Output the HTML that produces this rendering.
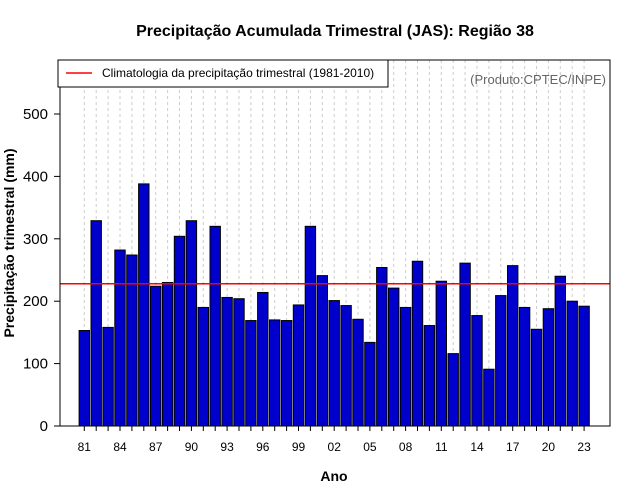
<!DOCTYPE html>
<html><head><meta charset="utf-8"><style>body{margin:0;background:#fff}svg{display:block}text{font-family:"Liberation Sans",sans-serif}</style></head>
<body>
<svg id="c" width="640" height="500"></svg>
<script>
const years=[81,82,83,84,85,86,87,88,89,90,91,92,93,94,95,96,97,98,99,0,1,2,3,4,5,6,7,8,9,10,11,12,13,14,15,16,17,18,19,20,21,22,23];
const values=[153,329,158,282,274,388,224,230,304,329,190,320,206,204,169,214,170,169,194,320,241,201,193,171,134,254,221,190,264,161,232,116,261,177,91,209,257,190,155,188,240,200,192];
const climatology=228;
const yTicks=[0,100,200,300,400,500];
const xLabels=["81","84","87","90","93","96","99","02","05","08","11","14","17","20","23"];
const NS="http://www.w3.org/2000/svg",svg=document.getElementById('c');
function el(t,a,p){const e=document.createElementNS(NS,t);for(const k in a)e.setAttribute(k,a[k]);(p||svg).appendChild(e);return e;}
const L=60,R=610,T=60,B=426;
const x=i=>84.3+i*11.9, y=v=>B-v*0.624;
for(let i=0;i<values.length;i++){const g=el('line',{x1:x(i),x2:x(i),y1:T,y2:B,stroke:'#ccc','stroke-dasharray':'3,3'});

}
values.forEach((v,i)=>{const b=el('rect',{x:x(i)-5.2,y:y(v),width:10.4,height:B-y(v),fill:'#0000cd',stroke:'#000','stroke-width':1});

});
const cl=el('line',{x1:L,x2:R,y1:y(climatology),y2:y(climatology),stroke:'#f00','stroke-width':1.5});


const fr=el('rect',{x:L,y:T,width:R-L,height:B-T,fill:'none',stroke:'#000'});


yTicks.forEach(t=>{el('line',{x1:L-6,x2:L,y1:y(t),y2:y(t),stroke:'#000'});
const tx=el('text',{x:L-12,y:y(t)+5,'text-anchor':'end','font-size':15},svg);tx.textContent=t;

});
years.forEach((yr,i)=>{el('line',{x1:x(i),x2:x(i),y1:B,y2:B+5,stroke:'#000'});});
xLabels.forEach((lb,k)=>{const tx=el('text',{x:x(k*3),y:B+25,'text-anchor':'middle','font-size':12});tx.textContent=lb;

});
</script>
<div style="position:absolute;left:0;top:0;width:640px;height:500px;pointer-events:none">
<svg width="640" height="500">
<text x="335" y="36" text-anchor="middle" font-size="16" font-weight="bold">Precipitação Acumulada Trimestral (JAS): Região 38</text>
<g>
<rect x="58" y="60" width="330" height="27" fill="#fff" stroke="#000"/>
<line x1="66" x2="92" y1="73" y2="73" stroke="#f00" stroke-width="1.5"/>
<text x="102" y="77" font-size="12">Climatologia da precipitação trimestral (1981-2010)</text>
</g>
<text x="606" y="84" text-anchor="end" font-size="13" fill="#666">(Produto:CPTEC/INPE)</text>
<text x="334" y="481" text-anchor="middle" font-size="14" font-weight="bold">Ano</text>
<text transform="translate(14,243) rotate(-90)" text-anchor="middle" font-size="14" font-weight="bold">Precipitação trimestral (mm)</text>
</svg></div>
</body></html>
